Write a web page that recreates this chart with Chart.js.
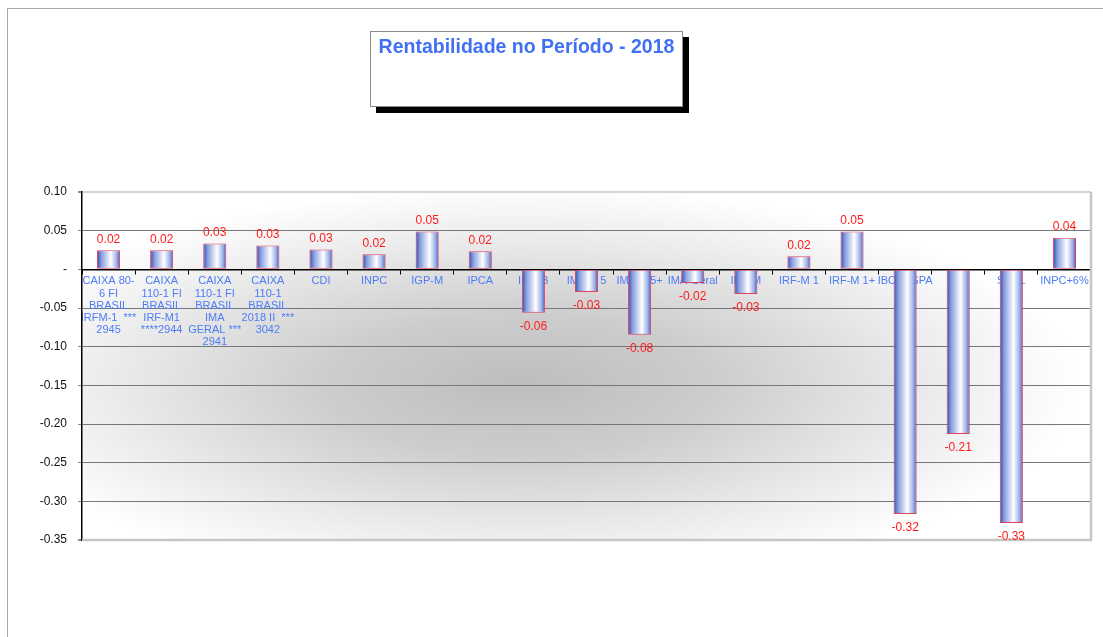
<!DOCTYPE html>
<html>
<head>
<meta charset="utf-8">
<script src="https://cdn.jsdelivr.net/npm/chart.js@4.4.1/dist/chart.umd.min.js"></script>
<style>
  html, body { margin: 0; padding: 0; background: #fff; }
  #wrap { position: relative; width: 1103px; height: 637px; overflow: hidden; }
  #frame { position: absolute; left: 7px; top: 8px; right: -10px; bottom: -10px;
           border-left: 1px solid #aaaaaa; border-top: 1px solid #aaaaaa; }
  #titleBox { position: absolute; left: 370px; top: 31px; width: 311px; height: 74px;
              background: #fff; border: 1px solid #8c8c8c; box-shadow: 6px 6px 0 #000; }
  #titleBox span { display: block; text-align: center; margin-top: 3px; white-space: nowrap;
                   font: bold 19.5px "Liberation Sans", Arial, sans-serif; color: #4170f2; }
  canvas { position: absolute; left: 0; top: 0; }
</style>
</head>
<body>
<div id="wrap">
  <div id="frame"></div>
  <canvas id="chart" width="1103" height="637"></canvas>
  <div id="titleBox"><span>Rentabilidade no Período - 2018</span></div>
</div>
<script>
  const categories = [
    ["CAIXA 80-", "6 FI", "BRASIL", "IRFM-1  ***", "2945"],
    ["CAIXA", "110-1 FI", "BRASIL", "IRF-M1", "****2944"],
    ["CAIXA", "110-1 FI", "BRASIL", "IMA", "GERAL ***", "2941"],
    ["CAIXA", "110-1", "BRASIL", "2018 II  ***", "3042"],
    "CDI",
    "INPC",
    "IGP-M",
    "IPCA",
    "IMA-B",
    "IMA-B 5",
    "IMA-B 5+",
    "IMA-Geral",
    "IRF-M",
    "IRF-M 1",
    "IRF-M 1+",
    "IBOVESPA",
    "IBX",
    "SMLL",
    "INPC+6%"
  ];

  const rentabilidade = [
    0.0246, 0.0246, 0.0333, 0.0307, 0.0255, 0.0194, 0.0488, 0.0233,
    -0.0561, -0.0294, -0.0846, -0.0177, -0.0320, 0.0168, 0.0488,
    -0.3165, -0.2128, -0.3280, 0.0410
  ];

  const yMin = -0.35;
  const yMax = 0.10;
  const yStep = 0.05;

  const barPct = 0.435;

  function barFill(ctx) {
    const chart = ctx.chart;
    const xs = chart.scales.x;
    if (!xs || !chart.chartArea || ctx.type !== "data") {
      return "#7d93da";
    }
    const cx = xs.getPixelForValue(ctx.dataIndex);
    const half = (xs.width / categories.length) * barPct / 2;
    const g = chart.ctx.createLinearGradient(cx - half, 0, cx + half, 0);
    g.addColorStop(0, "#2c4db3");
    g.addColorStop(0.2, "#8aa0e0");
    g.addColorStop(0.6, "#ffffff");
    g.addColorStop(0.85, "#9fb1e6");
    g.addColorStop(1, "#3a5bc2");
    return g;
  }

  const plotBackground = {
    id: "plotBackground",
    beforeDraw(chart) {
      const { ctx, chartArea: a } = chart;
      ctx.save();
      ctx.fillStyle = "#ffffff";
      ctx.fillRect(a.left, a.top, a.right - a.left, a.bottom - a.top);
      ctx.beginPath();
      ctx.rect(a.left, a.top, a.right - a.left, a.bottom - a.top);
      ctx.clip();
      const cx = 520, cy = 385, rx = 560, ry = 200;
      ctx.translate(cx, cy);
      ctx.scale(1, ry / rx);
      const g = ctx.createRadialGradient(0, 0, 0, 0, 0, rx);
      g.addColorStop(0, "#bdbdbd");
      g.addColorStop(0.35, "#cdcdcd");
      g.addColorStop(0.7, "#e9e9e9");
      g.addColorStop(1, "#ffffff");
      ctx.fillStyle = g;
      ctx.fillRect(-rx * 1.5, -rx * 1.5, rx * 3, rx * 3);
      ctx.restore();
    }
  };

  const plotBorder = {
    id: "plotBorder",
    beforeDatasetsDraw(chart) {
      const { ctx, chartArea: a } = chart;
      ctx.save();
      ctx.strokeStyle = "#c6c6c6";
      ctx.lineWidth = 2.5;
      ctx.beginPath();
      ctx.moveTo(a.left, a.bottom);
      ctx.lineTo(a.right, a.bottom);
      ctx.lineTo(a.right, a.top);
      ctx.stroke();
      ctx.restore();
    }
  };

  const valueLabels = {
    id: "valueLabels",
    afterDatasetsDraw(chart) {
      const { ctx } = chart;
      const meta = chart.getDatasetMeta(0);
      ctx.save();
      ctx.font = '12px "Liberation Sans", Arial, sans-serif';
      ctx.fillStyle = "#ff1a1a";
      ctx.textAlign = "center";
      ctx.textBaseline = "middle";
      meta.data.forEach((bar, i) => {
        const v = rentabilidade[i];
        const y = v >= 0 ? bar.y - 11 : bar.y + 14;
        ctx.fillText(v.toFixed(2), bar.x, y);
      });
      ctx.restore();
    }
  };

  new Chart(document.getElementById("chart"), {
    type: "bar",
    data: {
      labels: categories,
      datasets: [{
        data: rentabilidade,
        backgroundColor: barFill,
        borderColor: "#e0405e",
        borderWidth: 1,
        borderSkipped: false,
        barPercentage: barPct,
        categoryPercentage: 1
      }]
    },
    options: {
      responsive: false,
      animation: false,
      layout: { padding: { left: 0, right: 12, top: 192, bottom: 97 } },
      plugins: {
        legend: { display: false },
        title: { display: false },
        tooltip: { enabled: false }
      },
      scales: {
        x: {
          position: { y: 0 },
          offset: true,
          grid: {
            display: true,
            offset: true,
            drawOnChartArea: false,
            tickLength: 4,
            color: "#000000"
          },
          border: { display: true, color: "#000000", width: 1.5 },
          ticks: {
            autoSkip: false,
            maxRotation: 0,
            minRotation: 0,
            padding: 2,
            color: "#4d7cf7",
            font: { family: '"Liberation Sans", Arial, sans-serif', size: 11, lineHeight: 1.1 }
          }
        },
        y: {
          min: yMin,
          max: yMax,
          afterFit(scale) { scale.width = 82; },
          ticks: {
            stepSize: yStep,
            padding: 11,
            color: "#111111",
            font: { family: '"Liberation Sans", Arial, sans-serif', size: 12 },
            callback: (value) => Math.abs(value) < 1e-9 ? "-" : Number(value).toFixed(2)
          },
          grid: {
            tickLength: 4,
            tickColor: "#8a8a8a",
            color: (ctx) => {
              const v = ctx.tick ? ctx.tick.value : 0;
              if (Math.abs(v) < 1e-9) return "rgba(0,0,0,0)";
              if (Math.abs(v - yMax) < 1e-9) return "#d4d4d4";
              if (Math.abs(v - yMin) < 1e-9) return "#c6c6c6";
              return "#777777";
            },
            lineWidth: (ctx) => {
              const v = ctx.tick ? ctx.tick.value : 0;
              if (Math.abs(v - yMax) < 1e-9 || Math.abs(v - yMin) < 1e-9) return 2;
              return 1;
            }
          },
          border: { display: true, color: "#000000", width: 1.5 }
        }
      }
    },
    plugins: [plotBackground, plotBorder, valueLabels]
  });
</script>
</body>
</html>
